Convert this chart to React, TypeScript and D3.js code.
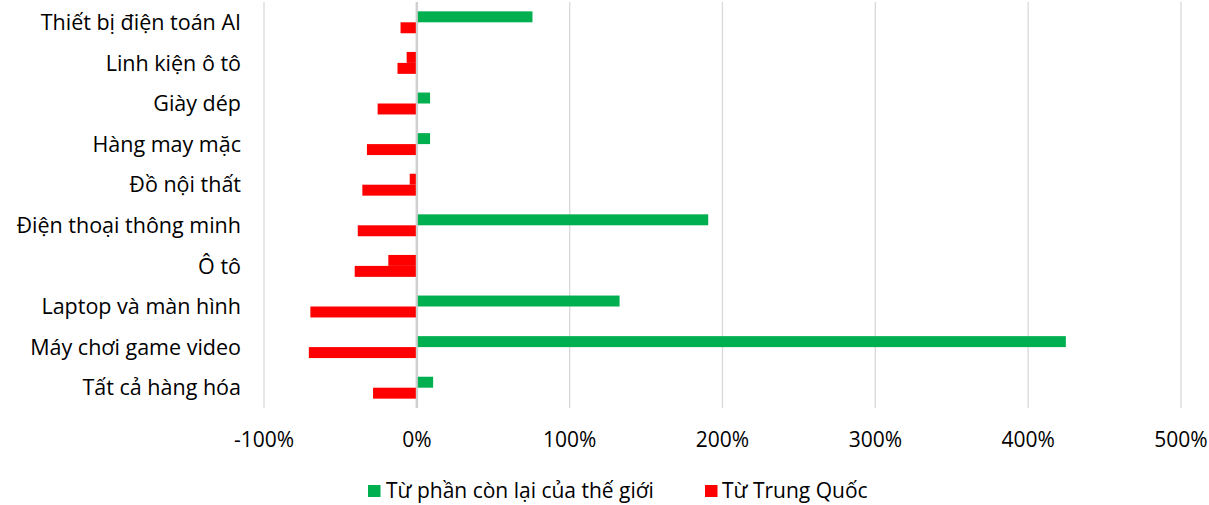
import React from "react";
import * as d3 from "d3";

const categories = [
  "Thiết bị điện toán AI",
  "Linh kiện ô tô",
  "Giày dép",
  "Hàng may mặc",
  "Đồ nội thất",
  "Điện thoại thông minh",
  "Ô tô",
  "Laptop và màn hình",
  "Máy chơi game video",
  "Tất cả hàng hóa",
];
const worldValues = [75, -6, 8, 8, -4, 190, -18, 132, 424, 10];
const chinaValues = [-10, -12, -25, -32, -35, -38, -40, -69, -70, -28];
const seriesNames = ["Từ phần còn lại của thế giới", "Từ Trung Quốc"];
const xTicks = [-100, 0, 100, 200, 300, 400, 500];

const GREEN = "#00B050";
const RED = "#FF0000";
const FONT = "'Open Sans', sans-serif";

export default function App() {
  const W = 1209, H = 505;
  const left = 264, right = 1181, top = 2, bottom = 408;
  const x = d3.scaleLinear().domain([-100, 500]).range([left, right]);
  const y = d3.scaleBand<string>().domain(categories).range([top, bottom]).padding(0);
  const step = y.step();
  const sub = d3.scaleBand<string>().domain(["w", "c"]).range([step * 0.23, step * 0.77]).padding(0);

  return (
    <svg width={W} height={H} style={{ position: "absolute", left: 0, top: 0, background: "#fff" }}>
      {xTicks.map((t) => (
        <line key={t} x1={x(t)} x2={x(t)} y1={top} y2={bottom} stroke={t === 0 ? "#D0D0D0" : "#D9D9D9"} strokeWidth={t === 0 ? 2.5 : 1.3} />
      ))}
      {categories.map((c, i) => {
        const y0 = y(c)!;
        const wv = worldValues[i];
        const cv = chinaValues[i];
        return (
          <g key={c}>
            <rect x={Math.min(x(0), x(wv)) + (wv >= 0 ? 1 : -1)} y={y0 + sub("w")!} width={Math.abs(x(wv) - x(0))} height={sub.bandwidth()} fill={wv >= 0 ? GREEN : RED} />
            <rect x={Math.min(x(0), x(cv)) + (cv >= 0 ? 1 : -1)} y={y0 + sub("c")!} width={Math.abs(x(cv) - x(0))} height={sub.bandwidth()} fill={cv >= 0 ? GREEN : RED} />
            <text x={241} y={y0 + step / 2} dy="0.36em" textAnchor="end" fontFamily={FONT} fontSize={21.5} fill="#000">{c}</text>
          </g>
        );
      })}
      {xTicks.map((t) => (
        <text key={"l" + t} x={x(t)} y={447} textAnchor="middle" fontFamily={FONT} fontSize={21} fill="#000">{t + "%"}</text>
      ))}
      <g>
        <rect x={368} y={485} width={12.5} height={12} fill={GREEN} />
        <text x={386} y={498} fontFamily={FONT} fontSize={21} fill="#000">{seriesNames[0]}</text>
        <rect x={705} y={485} width={12.5} height={12} fill={RED} />
        <text x={722} y={498} fontFamily={FONT} fontSize={21} fill="#000">{seriesNames[1]}</text>
      </g>
    </svg>
  );
}
